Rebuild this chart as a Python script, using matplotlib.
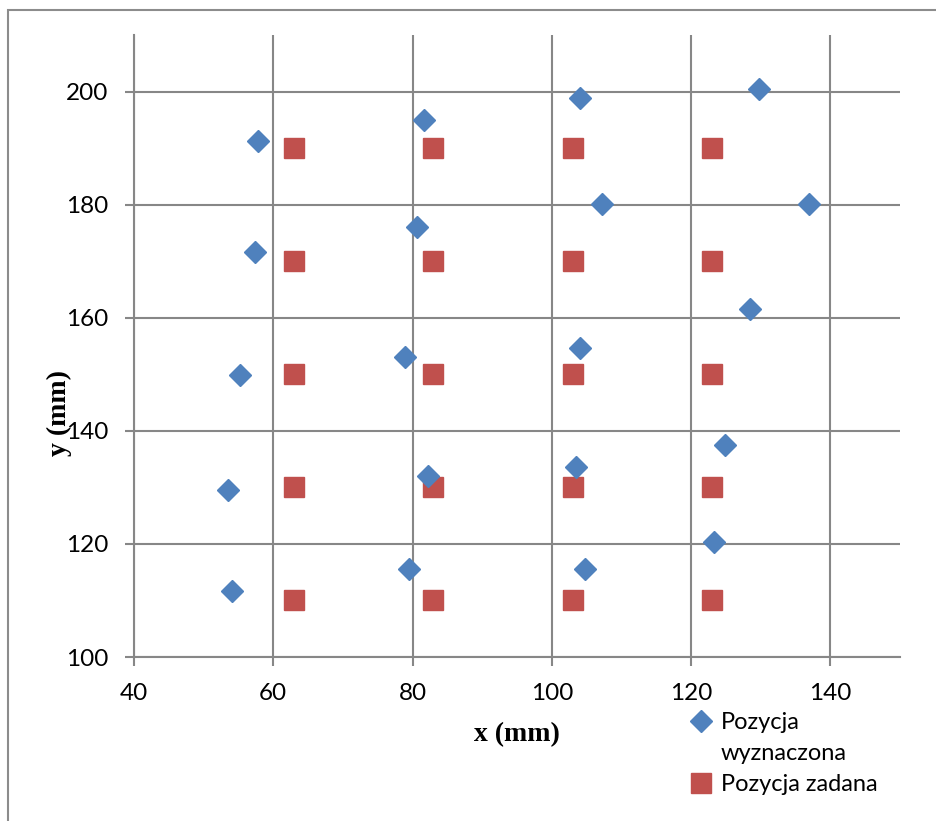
import matplotlib
matplotlib.use("Agg")
import matplotlib.pyplot as plt
from matplotlib.lines import Line2D
from matplotlib.patches import Rectangle

# Measured positions (mm)
x_meas = [57.8, 81.7, 104.1, 129.7, 57.4, 80.7, 107.2, 137.0, 128.5, 55.2,
          78.9, 104.1, 124.8, 53.5, 82.2, 103.5, 123.3, 54.1, 79.5, 104.7]
y_meas = [191.2, 194.9, 198.9, 200.5, 171.6, 176.1, 180.2, 180.2, 161.5, 149.8,
          153.0, 154.6, 137.5, 129.5, 132.0, 133.6, 120.3, 111.7, 115.5, 115.5]

# Target positions (mm)
x_set = [63, 83, 103, 123, 63, 83, 103, 123, 63, 83,
         103, 123, 63, 83, 103, 123, 63, 83, 103, 123]
y_set = [190, 190, 190, 190, 170, 170, 170, 170, 150, 150,
         150, 150, 130, 130, 130, 130, 110, 110, 110, 110]

x_ticks = [40, 60, 80, 100, 120, 140]
y_ticks = [100, 120, 140, 160, 180, 200]

label_meas = "Pozycja wyznaczona"
label_set = "Pozycja zadana"

BLUE = "#4F81BD"
RED = "#C0504D"
GRID = "#878787"
TICK_FONT = "Lato"
LABEL_FONT = "Liberation Serif"

W, H = 936, 821
fig = plt.figure(figsize=(W / 100, H / 100), dpi=100)
ax = fig.add_axes([134 / W, 1 - 657 / H, (900 - 134) / W, (657 - 35) / H])

ax.plot(x_set, y_set, linestyle="none", marker="s", markersize=14.4,
        color=RED, markeredgecolor=RED, zorder=3)
ax.plot(x_meas, y_meas, linestyle="none", marker="D", markersize=11,
        color=BLUE, markeredgecolor=BLUE, zorder=4)

ax.set_xlim(40, 150)
ax.set_ylim(100, 210)
ax.set_xticks(x_ticks)
ax.set_yticks(y_ticks)
ax.grid(True, color=GRID, linewidth=1.5)
ax.set_axisbelow(True)
for side in ("top", "right"):
    ax.spines[side].set_visible(False)
for side in ("left", "bottom"):
    ax.spines[side].set_color(GRID)
    ax.spines[side].set_linewidth(1.5)
ax.tick_params(axis="both", direction="out", length=6.5, width=1.5,
               color=GRID, pad=12, labelsize=17.5)
for lbl in ax.get_xticklabels() + ax.get_yticklabels():
    lbl.set_fontfamily(TICK_FONT)

fig.text(517 / W, 1 - 735 / H, "x (mm)", ha="center", va="center",
         fontsize=20, fontweight="bold", fontfamily=LABEL_FONT)
fig.text(59 / W, 1 - 413 / H, "y (mm)", ha="center", va="center",
         rotation=90, fontsize=20, fontweight="bold", fontfamily=LABEL_FONT)

# Legend: first label broken over two lines
words = label_meas.split(" ")
handles = [
    Line2D([], [], linestyle="none", marker="D", markersize=11,
           color=BLUE, markeredgecolor=BLUE),
    Line2D([], [], linestyle="none", marker=None),
    Line2D([], [], linestyle="none", marker="s", markersize=14.4,
           color=RED, markeredgecolor=RED),
]
leg = fig.legend(handles, [words[0], words[1], label_set],
                 loc="upper left", bbox_to_anchor=(690 / W, 1 - 712 / H),
                 frameon=False, prop={"family": TICK_FONT, "size": 17},
                 handlelength=0.9, handletextpad=0.4, labelspacing=0.42,
                 borderpad=0, borderaxespad=0)

# Outer chart border
fig.patches.append(Rectangle((8 / W, -0.1), 1.0, (H - 10) / H + 0.1,
                             transform=fig.transFigure, fill=False,
                             edgecolor="#8C8C8C", linewidth=1.5))

fig.savefig("out.png", dpi=100)
